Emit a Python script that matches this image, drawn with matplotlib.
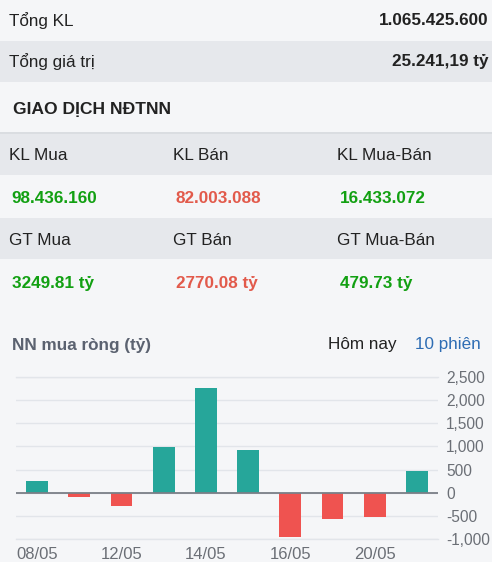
import matplotlib
matplotlib.use('Agg')
import matplotlib.pyplot as plt
from matplotlib.patches import Rectangle
from matplotlib.lines import Line2D
import numpy as np

# --- Data ---
summary_labels = ['Tổng KL', 'Tổng giá trị']
summary_values = ['1.065.425.600', '25.241,19 tỷ']

kl_headers = ['KL Mua', 'KL Bán', 'KL Mua-Bán']
kl_values = ['98.436.160', '82.003.088', '16.433.072']
gt_headers = ['GT Mua', 'GT Bán', 'GT Mua-Bán']
gt_values = ['3249.81 tỷ', '2770.08 tỷ', '479.73 tỷ']
value_kinds = ['buy', 'sell', 'buy']

dates = ['08/05', '09/05', '12/05', '13/05', '14/05', '15/05', '16/05', '19/05', '20/05', '21/05']
net_buy = [252, -86, -287, 985, 2270, 920, -948, -560, -517, 479.73]
y_ticks = [-1000, -500, 0, 500, 1000, 1500, 2000, 2500]

# --- Style ---
W, H = 492, 562
BG = '#f5f6f8'
ROW_GRAY = '#e6e8ec'
TXT = '#222222'
GREEN = '#12a012'
RED = '#e25a4b'
BAR_UP = '#26a69a'
BAR_DN = '#ef5350'
FONT = 'Liberation Sans'
plt.rcParams['font.family'] = [FONT, 'DejaVu Sans']

fig = plt.figure(figsize=(W / 100, H / 100), dpi=100, facecolor=BG)


def fx(x):
    return x / W


def fy(y):
    return 1 - y / H


def band(y0, y1, color):
    fig.add_artist(Rectangle((0, fy(y1)), 1, (y1 - y0) / H, transform=fig.transFigure,
                             facecolor=color, edgecolor='none', zorder=0))


def txt(x, y, s, **kw):
    kw.setdefault('color', TXT)
    kw.setdefault('fontsize', 12.3)
    kw.setdefault('va', 'center_baseline')
    fig.text(fx(x), fy(y), s, **kw)


# --- Summary rows ---
band(41, 82, ROW_GRAY)
for i, (lab, val) in enumerate(zip(summary_labels, summary_values)):
    yc = 19 + i * 41
    txt(9, yc, lab)
    txt(489, yc, val, ha='right', fontweight='bold')

txt(13, 108, 'GIAO DỊCH NĐTNN', fontweight='bold', fontsize=12.6)

# --- Foreign trading table ---
fig.add_artist(Line2D([0, 1], [fy(133), fy(133)], transform=fig.transFigure, color='#d5d8dd', lw=1.2))
band(134, 175, ROW_GRAY)
band(218, 259, ROW_GRAY)
col_x = [9, 173, 337]
for row, (heads, vals) in enumerate([(kl_headers, kl_values), (gt_headers, gt_values)]):
    yh = 154 + row * 85
    yv = 197 + row * 85
    for cx, h, v, kind in zip(col_x, heads, vals, value_kinds):
        txt(cx, yh, h)
        txt(cx + 2.5, yv, v, fontweight='bold', color=GREEN if kind == 'buy' else RED)

# --- Chart header ---
txt(12, 344, 'NN mua ròng (tỷ)', fontweight='bold', color='#5b6270')
txt(328, 343, 'Hôm nay', color='#222222')
txt(415, 343, '10 phiên', color='#2e6db4')

# --- Bar chart ---
ax = fig.add_axes([fx(16), fy(539), (438 - 16) / W, (539 - 377) / H])
ax.set_facecolor('none')
x = np.arange(len(dates))
colors = [BAR_UP if v >= 0 else BAR_DN for v in net_buy]
ax.bar(x, net_buy, width=0.52, color=colors, zorder=3)
ax.axhline(0, color='#7a7f87', lw=1.3, zorder=4)
ax.set_xlim(-0.5, len(dates) - 0.5)
ax.set_ylim(y_ticks[0], y_ticks[-1])
ax.set_yticks(y_ticks)
ax.yaxis.grid(True, color='#e2e5ea', lw=1, zorder=0)
for yt in (y_ticks[0], y_ticks[-1]):
    ax.axhline(yt, color='#e2e5ea', lw=1, zorder=0, clip_on=False)
ax.yaxis.tick_right()
ax.set_yticklabels([f'{v:,}' for v in y_ticks])
ax.tick_params(axis='y', length=0, pad=6, labelsize=11.2, labelcolor='#6b6f76')
ax.set_xticks(x[::2])
ax.set_xticklabels(dates[::2])
ax.tick_params(axis='x', length=0, pad=6, labelsize=12, labelcolor='#6b6f76')
for s in ax.spines.values():
    s.set_visible(False)

fig.savefig('out.png', dpi=100, facecolor=BG)
